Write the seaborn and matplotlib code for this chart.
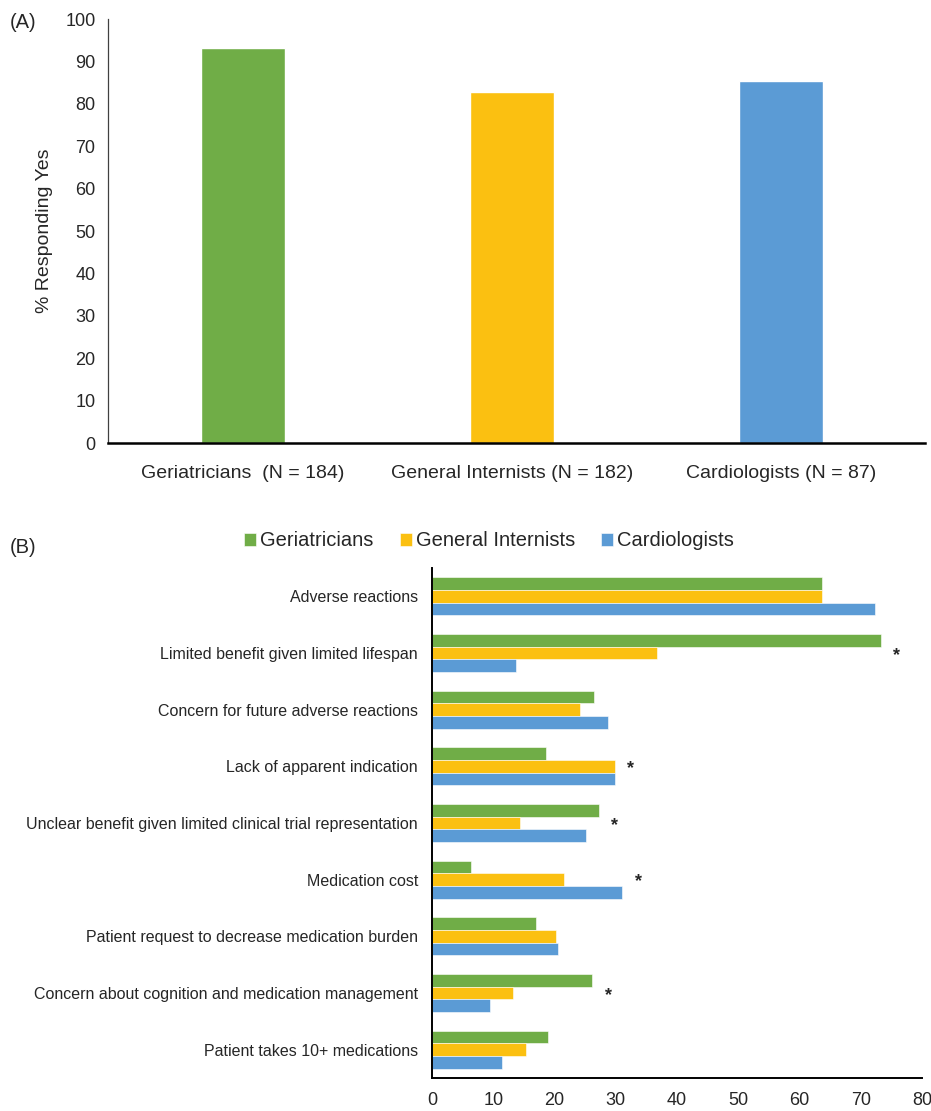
import matplotlib
matplotlib.use("Agg")
import matplotlib.pyplot as plt
import seaborn as sns
import pandas as pd

# ---------------- data ----------------
groups_a = ["Geriatricians  (N = 184)", "General Internists (N = 182)", "Cardiologists (N = 87)"]
pct_yes = [93.1, 82.9, 85.3]

specialties = ["Geriatricians", "General Internists", "Cardiologists"]
reasons = [
    "Adverse reactions",
    "Limited benefit given limited lifespan",
    "Concern for future adverse reactions",
    "Lack of apparent indication",
    "Unclear benefit given limited clinical trial representation",
    "Medication cost",
    "Patient request to decrease medication burden",
    "Concern about cognition and medication management",
    "Patient takes 10+ medications",
]
geriatricians = [63.7, 73.3, 26.5, 18.6, 27.2, 6.4, 16.9, 26.2, 18.9]
internists = [63.7, 36.7, 24.2, 29.8, 14.3, 21.6, 20.2, 13.3, 15.3]
cardiologists = [72.3, 13.7, 28.8, 29.8, 25.1, 31.1, 20.6, 9.4, 11.4]
significant = [False, True, False, True, True, True, False, True, False]

colors = ["#70AD47", "#FBC011", "#5B9BD5"]

# ---------------- figure ----------------
sns.set_theme(style="white")
plt.rcParams["font.family"] = ["Liberation Sans", "DejaVu Sans"]

W, H = 931, 1111
fig = plt.figure(figsize=(W / 100, H / 100), dpi=100)

# Panel A
axA = fig.add_axes([108 / W, 1 - 443 / H, 817 / W, (443 - 19) / H])
dfA = pd.DataFrame({"group": groups_a, "pct": pct_yes})
sns.barplot(data=dfA, x="group", y="pct", hue="group", palette=colors,
            width=0.31, legend=False, ax=axA, saturation=1)
axA.set_ylim(0, 100)
axA.set_xlim(-0.502, 2.535)
axA.set_yticks(range(0, 101, 10))
axA.set_xlabel("")
axA.set_ylabel("% Responding Yes", fontsize=14, labelpad=9)
axA.tick_params(axis="both", length=0)
axA.tick_params(axis="x", pad=16, labelsize=14)
axA.tick_params(axis="y", pad=9, labelsize=13)
for s in ["top", "right"]:
    axA.spines[s].set_visible(False)
axA.spines["left"].set_color("#404040")
axA.spines["left"].set_linewidth(0.9)
axA.spines["bottom"].set_color("black")
axA.spines["bottom"].set_linewidth(1.8)
fig.text(10 / W, 1 - 22 / H, "(A)", fontsize=14.5, va="center", ha="left")

# Panel B
axB = fig.add_axes([432 / W, 1 - 1078 / H, 490 / W, (1078 - 568) / H])
dfB = pd.DataFrame({
    "reason": reasons * 3,
    "specialty": [s for s in specialties for _ in reasons],
    "value": geriatricians + internists + cardiologists,
})
sns.barplot(data=dfB, y="reason", x="value", hue="specialty", hue_order=specialties,
            palette=colors, orient="h", width=0.67, ax=axB, saturation=1,
            edgecolor="white", linewidth=0.4)
axB.set_xlim(0, 80)
axB.set_xticks(range(0, 81, 10))
axB.set_xlabel("")
axB.set_ylabel("")
axB.tick_params(axis="both", length=0)
axB.tick_params(axis="x", labelsize=13, pad=10)
axB.tick_params(axis="y", labelsize=11.5, pad=10)
for s in ["top", "right"]:
    axB.spines[s].set_visible(False)
for s in ["left", "bottom"]:
    axB.spines[s].set_color("black")
    axB.spines[s].set_linewidth(1.4)

for i, sig in enumerate(significant):
    if sig:
        top = max(geriatricians[i], internists[i], cardiologists[i])
        axB.text(top + 2.6, i + 0.04, "*", fontsize=13, ha="center", va="center",
                 fontweight="bold")

sns.move_legend(axB, "center", bbox_to_anchor=(489 / W, 1 - 541 / H),
                bbox_transform=fig.transFigure, ncol=3, frameon=False,
                title=None, fontsize=14.5, handlelength=0.6, handleheight=0.6,
                handletextpad=0.2, columnspacing=1.3)
fig.text(10 / W, 1 - 548 / H, "(B)", fontsize=14.5, va="center", ha="left")

fig.savefig("out.png", dpi=100)
